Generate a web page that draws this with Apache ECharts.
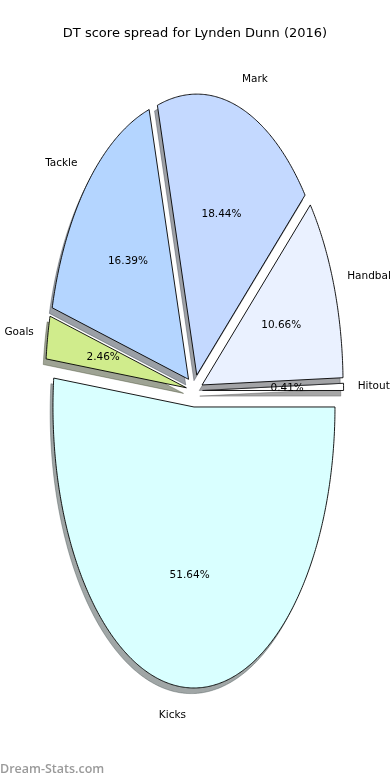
<!DOCTYPE html>
<html><head><meta charset="utf-8">
<script src="https://cdn.jsdelivr.net/npm/echarts@6/dist/echarts.min.js"></script>
<style>html,body{margin:0;padding:0;background:#fff}#c{width:390px;height:780px}</style>
</head><body><div id="c"></div>
<script>
// ---- data ----
const categories = ['Hitout', 'Handball', 'Mark', 'Tackle', 'Goals', 'Kicks'];
const values = [1, 26, 45, 40, 6, 126];
const sliceColors = ['#ffffff', '#eaf1ff', '#c4d9ff', '#b4d5ff', '#d0ec8c', '#d9ffff'];
const titleText = 'DT score spread for Lynden Dunn (2016)';
const watermarkText = 'Dream-Stats.com';

// ---- layout ----
const total = values.reduce((a, b) => a + b, 0);
const starts = [];
values.reduce((acc, v) => { starts.push(acc); return acc + v; }, 0);
const CX = 194.4, CY = 390.7, RX = 141, RY = 281, EXPLODE = 0.058, LABEL_D = 1.1, PCT_D = 0.6;
const SH_DX = -0.02 * RX, SH_DY = 0.02 * RY;
const FONT = 'DejaVu Sans';

function shadowColor(hex) {
  const n = parseInt(hex.slice(1), 16);
  const r = (n >> 16) & 255, g = (n >> 8) & 255, b = n & 255;
  return 'rgba(' + Math.round(r * 0.3) + ',' + Math.round(g * 0.3) + ',' + Math.round(b * 0.3) + ',0.5)';
}

function renderItem(params, api) {
  const i = params.dataIndex;
  const v = api.value(0), s = api.value(1);
  const t1 = 2 * Math.PI * s / total, t2 = 2 * Math.PI * (s + v) / total;
  const tm = (t1 + t2) / 2;
  const ax = CX + EXPLODE * RX * Math.cos(tm);
  const ay = CY - EXPLODE * RY * Math.sin(tm);
  const pts = [[ax, ay]];
  const n = Math.max(2, Math.ceil((t2 - t1) / (Math.PI / 360)));
  for (let k = 0; k <= n; k++) {
    const t = t1 + (t2 - t1) * k / n;
    pts.push([ax + RX * Math.cos(t), ay - RY * Math.sin(t)]);
  }
  const shPts = pts.map(p => [p[0] + SH_DX, p[1] + SH_DY]);
  const color = sliceColors[i];
  const lx = ax + LABEL_D * RX * Math.cos(tm);
  const ly = ay - LABEL_D * RY * Math.sin(tm);
  const px = ax + PCT_D * RX * Math.cos(tm);
  const py = ay - PCT_D * RY * Math.sin(tm);
  const pct = (100 * v / total).toFixed(2) + '%';
  return {
    type: 'group',
    children: [
      { type: 'polygon', z2: 2 * i, shape: { points: shPts },
        style: { fill: shadowColor(color), stroke: shadowColor(color), lineWidth: 0.8 } },
      { type: 'polygon', z2: 2 * i + 1, shape: { points: pts },
        style: { fill: color, stroke: '#000', lineWidth: 0.9, lineJoin: 'miter' } },
      { type: 'text', z2: 100, x: lx, y: ly,
        style: { text: categories[i], fill: '#000', font: '10.5px "' + FONT + '"',
          align: Math.cos(tm) > 0 ? 'left' : 'right', verticalAlign: 'middle' } },
      { type: 'text', z2: 101, x: px, y: py,
        style: { text: pct, fill: '#000', font: '10.5px "' + FONT + '"',
          align: 'center', verticalAlign: 'middle' } }
    ]
  };
}

const chart = echarts.init(document.getElementById('c'), null, { renderer: 'canvas' });
chart.setOption({
  animation: false,
  backgroundColor: '#fff',
  title: {
    text: titleText, left: 'center', top: 22,
    textStyle: { fontFamily: FONT, fontSize: 13, fontWeight: 'normal', color: '#000' }
  },
  series: [{
    type: 'custom',
    coordinateSystem: 'none',
    renderItem: renderItem,
    data: values.map((v, i) => [v, starts[i]])
  }],
  graphic: [{
    type: 'text', left: 0, top: 763,
    style: { text: watermarkText, fill: '#9a9a9a', font: '600 12.5px "Open Sans"' }
  }]
});
</script>
</body></html>
